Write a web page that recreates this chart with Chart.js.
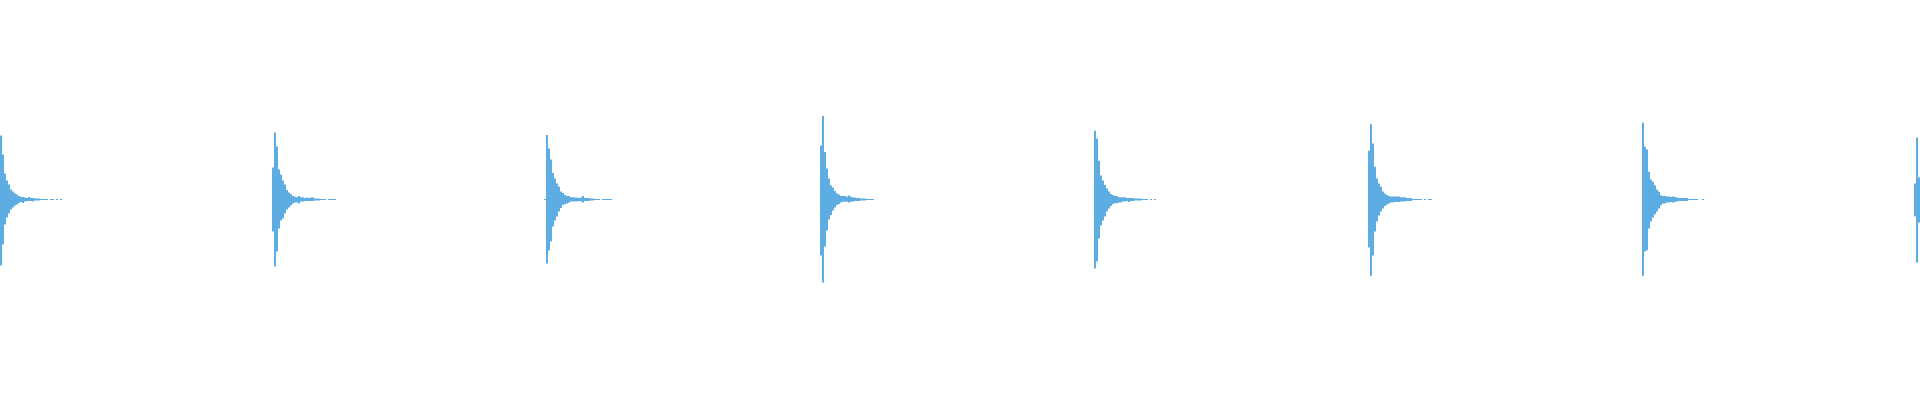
<!DOCTYPE html>
<html>
<head>
<meta charset="utf-8">
<script src="https://cdn.jsdelivr.net/npm/chart.js@4"></script>
<style>
  html, body { margin: 0; padding: 0; background: #fff; }
  #wrap { width: 1920px; height: 400px; }
</style>
</head>
<body>
<div id="wrap"><canvas id="waveChart"></canvas></div>
<script>
// waveform, 2px per column (960 columns), amplitudes above / below the centre line
const columnCount = 960;
const hitStarts = [0, 136, 272, 410, 547, 684, 821, 957];

const hit1Top = [64, 45, 26, 19, 15, 10, 8, 6, 5, 3.5, 2.5, 2.5, 2, 1.5, 2.5, 1.5, 1.5, 1, 1, 1, 0.5, 0.5, 0.5, 0.5, null, 0.5, 0.5, null, 0.5, null, 0.5];
const hit1Bot = [66, 45, 25, 18, 14, 10, 8, 6, 5, 3.5, 2.5, 3.5, 2, 1.5, 1.5, 1.5, 2, 1, 1, 1, 0.5, 0.5, 0.5, 0.5, null, 0.5, 0.5, null, 0.5, null, 0.5];
const hit2Top = [32, 67, 53, 30, 25, 19, 15, 9.5, 7, 5.5, 3.5, 2.7, 2.3, 3.5, 2.3, 2.3, 1.5, 2, 1.5, 2, 2, 1, 1, 1, 0.5, 0.5, 0.5, null, 0.5, 0.5, 0.5, 0.5];
const hit2Bot = [32, 67, 52, 29, 21, 19, 14, 10, 8, 6, 4, 3, 3, 4, 2, 2, 1.5, 1.5, 1.5, 1.5, 1.5, 1, 1, 1, 0.5, 0.5, 0.5, null, 0.5, 0.5, 0.5, 0.5];
const hit3Top = [0.5, 64.5, 51, 40, 26.5, 21, 16, 13, 8, 6.5, 4.5, 3.5, 3.5, 2.3, 2.3, 2, 2, 1.5, 2, 3.5, 1.5, 1.5, 1.5, 1, 1, 0.5, 0.5, 0.5, null, 0.5, 0.5, 0.5, 0.5, 0.5];
const hit3Bot = [0.5, 64, 51, 42, 27, 21, 17, 12, 8.5, 5.5, 4.5, 4, 3, 2, 2, 2, 2, 1.5, 2, 3, 1.5, 1.5, 1.5, 1, 1, 0.5, 0.5, 0.5, null, 0.5, 0.5, 0.5, 0.5, 0.5];
const hit4Top = [54, 83.5, 47.5, 31, 21, 14, 12, 8.5, 6, 5, 3.5, 3.5, 3.5, 2.7, 4, 2.7, 2, 2, 1.5, 1.5, 1, 1, 1, 0.5, 0.5, 0.5, 0.5];
const hit4Bot = [56, 83, 47, 31, 20, 15.5, 11, 8, 5.5, 4.5, 3, 2.3, 2.3, 2.3, 3, 2.3, 2, 1.5, 1.5, 1.5, 1, 1, 1, 0.5, 0.5, 0.5, 0.5];
const hit5Top = [68.7, 61, 38.7, 24, 19, 14.5, 11, 8, 5.5, 4.5, 3.5, 3.5, 2.3, 2.3, 2.3, 2.3, 1.5, 1.5, 1.5, 1.5, 1, 1, 1, 1, 0.5, 0.5, 0.5, null, 0.5, null, 0.5];
const hit5Bot = [69, 62, 39, 26, 21, 17, 12, 9, 6.5, 4.5, 3.7, 3.7, 3, 3, 2, 2, 1.5, 2.5, 1.5, 1.5, 1, 1, 1, 1, 0.5, 0.5, 0.5, null, 0.5, null, 0.5];
const hit6Top = [48.7, 75.3, 56, 32.7, 21, 16, 12.7, 8, 6, 4.5, 3.5, 3, 3, 3, 3, 3, 2.3, 2.3, 2.3, 1.5, 1.5, 1.5, 0.5, 0.5, 0.5, 0.5, 0.5, null, 0.5, null, 0.5, 0.5];
const hit6Bot = [48, 76.3, 56, 32, 22, 16, 12, 9, 6.5, 5, 4, 3, 3, 2.5, 2.5, 2.5, 2, 2, 2, 1.5, 1.5, 1.5, 0.5, 0.5, 0.5, 0.5, 0.5, null, 0.5, null, 0.5, 0.5];
const hit7Top = [76.7, 52.7, 50, 27.7, 20, 17.7, 14.3, 10, 7.7, 4.3, 3.5, 3.5, 3, 3, 2.5, 3, 2.5, 2, 1.5, 1.5, 1.5, 1.5, 1.5, 0.5, 0.5, 0.5, 0.5, 0.5, null, null, 0.5];
const hit7Bot = [76.3, 52, 50.7, 29, 22, 18, 14.7, 12, 9, 5.7, 4, 4, 3, 3, 2.5, 3, 2.5, 2, 1.5, 1.5, 1.5, 1.5, 1.5, 0.5, 0.5, 0.5, 0.5, 0.5, null, null, 0.5];
const hit8Top = [16, 62, 22];
const hit8Bot = [16.7, 63.3, 23];

const hitTops = [hit1Top, hit2Top, hit3Top, hit4Top, hit5Top, hit6Top, hit7Top, hit8Top];
const hitBots = [hit1Bot, hit2Bot, hit3Bot, hit4Bot, hit5Bot, hit6Bot, hit7Bot, hit8Bot];

const labels = [];
const bars = [];
for (let i = 0; i < columnCount; i++) { labels.push(i); bars.push(null); }
hitStarts.forEach((start, h) => {
    hitTops[h].forEach((t, k) => {
        const b = hitBots[h][k];
        if (t === null || start + k >= columnCount) return;
        bars[start + k] = [-b, t];
    });
});

new Chart(document.getElementById('waveChart').getContext('2d'), {
    type: 'bar',
    data: {
        labels: labels,
        datasets: [{ data: bars, backgroundColor: '#5dade2', borderWidth: 0, barPercentage: 1, categoryPercentage: 1, inflateAmount: 0 }]
    },
    options: {
        responsive: true, maintainAspectRatio: false, animation: false,
        layout: { padding: 0 },
        plugins: { legend: { display: false }, tooltip: { enabled: false } },
        scales: {
            x: { display: false },
            y: { display: false, min: -200.5, max: 199.5 }
        }
    }
});
</script>
</body>
</html>
